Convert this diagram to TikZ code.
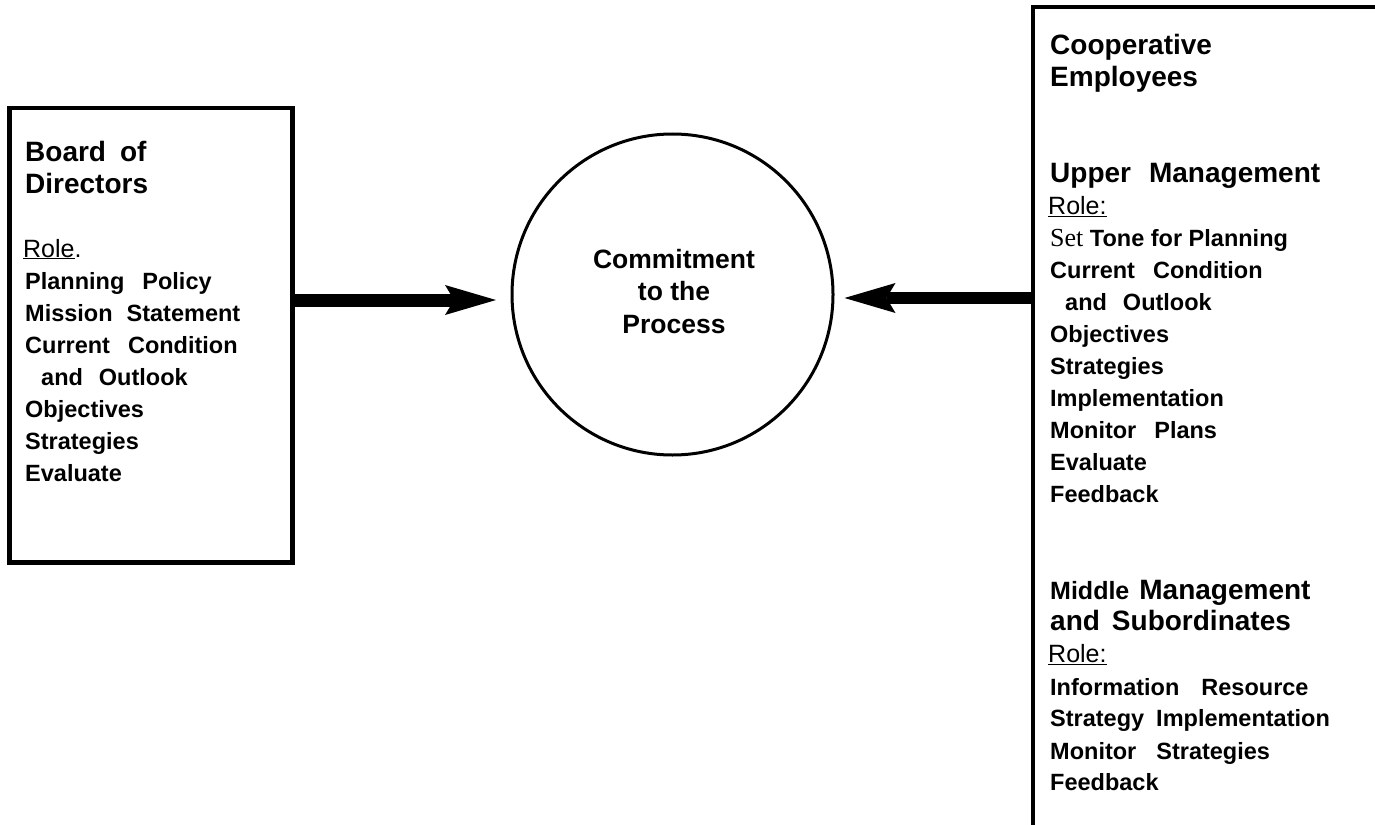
\documentclass[tikz,border=0pt]{standalone}
\usepackage{fontspec}
\setmainfont{Liberation Sans}
\newfontfamily\setserif{Liberation Serif}
\newfontfamily\rolefont{Liberation Sans}
\usetikzlibrary{arrows.meta}

% type sizes (1pt = 1 pixel of the drawing)
\newcommand\hd{\fontsize{28}{32}\selectfont\bfseries}
\newcommand\bd{\fontsize{23.5}{32}\selectfont\bfseries}
\newcommand\wg[1]{\hspace{#1pt}}
\newcommand\roleline[1]{{\rolefont\mdseries\fontsize{25}{32}\selectfont\hspace*{-2pt}\underline{#1}}}

\tikzset{
  frame/.style={draw, inner sep=0pt, anchor=north west},
  textblock/.style={anchor=base west, inner sep=0pt},
  bigarrow/.style={-{Stealth[length=51pt, width=30pt, inset=9pt, line width=0pt]}},
}

\begin{document}
\begin{tikzpicture}[x=1pt, y=-1pt]
\useasboundingbox (0,0) rectangle (1375,824);
\fill[white] (0,0) rectangle (1375,824);
\clip (0,0) rectangle (1375,824);

% Board of Directors
\node[frame, line width=4.5pt, minimum width=283pt, minimum height=454pt] (bod) at (7,106) {};
\node[textblock] (bodtext) at (25,161) {\parbox[t]{265pt}{\raggedright
  \hd Board\wg{14}of\\
  Directors\\[32pt]
  \roleline{Role}{\rolefont\mdseries\fontsize{25}{32}\selectfont .}\\
  \bd Planning\wg{18}Policy\\
  Mission\wg{14}Statement\\
  Current\wg{18}Condition\\
  \hspace*{16pt}and\wg{16}Outlook\\
  Objectives\\
  Strategies\\
  Evaluate}};

% centre circle
\node[circle, draw, line width=3pt, minimum size=321pt, inner sep=0pt] (circ) at (672.5,294.5) {};
\node[anchor=base, inner sep=0pt] (circtext) at (674,268) {\parbox[t]{220pt}{\centering
  \fontsize{26.5}{32.5}\selectfont\bfseries Commitment\\ to the\\ Process}};

% Cooperative Employees (runs off the page to the right and bottom)
\node[frame, line width=3.8pt, minimum width=420pt, minimum height=900pt] (emp) at (1031,5.5) {};
\node[textblock] (emptext) at (1050,55) {\parbox[t]{320pt}{\raggedright
  \hd Cooperative\\
  Employees\\[64pt]
  Upper\wg{18}Management\\
  \roleline{Role:}\\
  \bd{\setserif\mdseries\fontsize{26}{32}\selectfont Set} Tone for Planning\\
  Current\wg{18}Condition\\
  \hspace*{15pt}and\wg{16}Outlook\\
  Objectives\\
  Strategies\\
  Implementation\\
  Monitor\wg{18}Plans\\
  Evaluate\\
  Feedback\\[64pt]
  \hd{\fontsize{25}{32}\selectfont Middle}\wg{10}Management\\
  and\wg{12}Subordinates\\
  \roleline{Role:}\\
  \bd Information\wg{22}Resource\\
  Strategy\wg{12}Implementation\\
  Monitor\wg{20}Strategies\\
  Feedback}};

% arrows into the circle
\coordinate (yL) at (0,300);
\coordinate (yR) at (0,298);
\draw[bigarrow, line width=13pt, shorten >=14.5pt] (bod.east |- yL) -- (circ.west |- yL);
\draw[bigarrow, line width=11.5pt, shorten >=10pt] (emp.west |- yR) -- (circ.east |- yR);
\end{tikzpicture}
\end{document}
